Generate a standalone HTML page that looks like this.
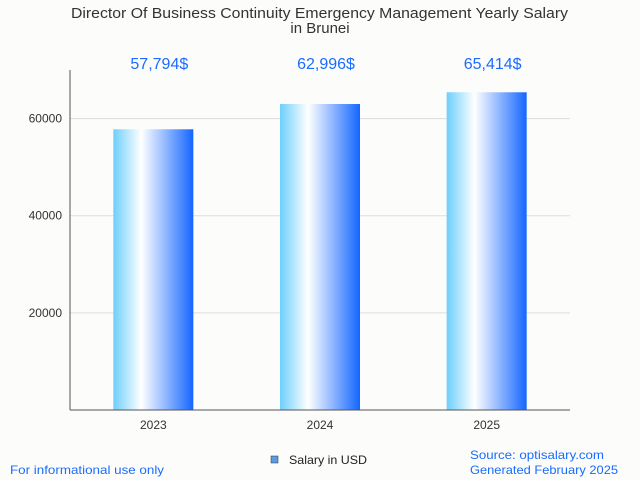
<!DOCTYPE html>
<html><head><meta charset="utf-8"><style>
body{margin:0;background:#fcfcfa;font-family:"Liberation Sans",sans-serif;}
svg{display:block}
</style></head><body>
<svg width="640" height="480" xmlns="http://www.w3.org/2000/svg">
<defs><linearGradient id="g" x1="0" x2="1" y1="0" y2="0">
<stop offset="0" stop-color="#6dcffb"/><stop offset="0.35" stop-color="#ffffff"/><stop offset="1" stop-color="#1466ff"/>
</linearGradient></defs>
<rect width="640" height="480" fill="#fcfcfa"/>
<text x="71" y="18" textLength="497" lengthAdjust="spacingAndGlyphs" font-size="15" fill="#333">Director Of Business Continuity Emergency Management Yearly Salary</text>
<text x="320" y="33" text-anchor="middle" font-size="15" fill="#333">in Brunei</text>
<g id="grid"></g><g id="bars"></g>
<line x1="70" y1="70" x2="70" y2="410" stroke="#555"/>
<line x1="70" y1="410" x2="570" y2="410" stroke="#555"/>
<rect x="271" y="456" width="7" height="7" fill="#5b9be0" stroke="#333" stroke-width="0.5"/>
<text x="289" y="464" textLength="78" lengthAdjust="spacingAndGlyphs" font-size="12" fill="#222">Salary in USD</text>
<text x="10" y="474" textLength="154" lengthAdjust="spacingAndGlyphs" font-size="12" fill="#1a6cff">For informational use only</text>
<text x="470" y="459" textLength="134" lengthAdjust="spacingAndGlyphs" font-size="12" fill="#1a6cff">Source: optisalary.com</text>
<text x="470" y="474" textLength="148" lengthAdjust="spacingAndGlyphs" font-size="12" fill="#1a6cff">Generated February 2025</text>
</svg>
<script>
const categories=["2023","2024","2025"];
const values=[57794,62996,65414];
const labels=["57,794$","62,996$","65,414$"];
const yTicks=[20000,40000,60000];
const NS="http://www.w3.org/2000/svg";
const y=v=>410-v/70000*340;
const x=i=>70+(i+0.5)*500/3;
const grid=document.getElementById('grid'),bars=document.getElementById('bars');
function mk(t,a,p){const e=document.createElementNS(NS,t);for(const k in a)e.setAttribute(k,a[k]);p.appendChild(e);return e;}
yTicks.forEach(t=>{
 const l=mk('line',{x1:70,x2:570,y1:y(t),y2:y(t),stroke:'#ddd'},grid);
 
 
 const tx=mk('text',{x:62,y:y(t)+4,'text-anchor':'end','font-size':12,fill:'#333'},grid);
 tx.textContent=t;
 
 
});
categories.forEach((c,i)=>{
 const r=mk('rect',{x:x(i)-40,y:y(values[i]),width:80,height:410-y(values[i]),fill:'url(#g)'},bars);
 
 
 const v=mk('text',{x:x(i)+6,y:69,'text-anchor':'middle','font-size':16,fill:'#1a6cff'},bars);
 v.textContent=labels[i];
 
 
 const xl=mk('text',{x:x(i),y:429,'text-anchor':'middle','font-size':12,fill:'#333'},bars);
 xl.textContent=c;
 
 
});
</script>
</body></html>
